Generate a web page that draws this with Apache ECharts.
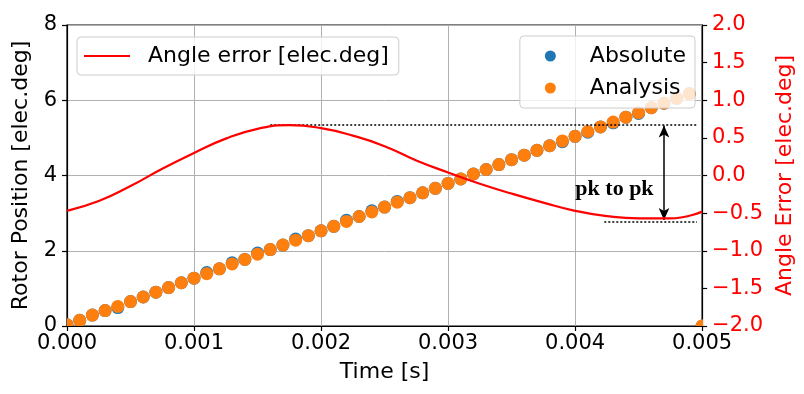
<!DOCTYPE html>
<html>
<head>
<meta charset="utf-8">
<script src="https://cdn.jsdelivr.net/npm/echarts@6/dist/echarts.min.js"></script>
<style>
html,body{margin:0;padding:0;background:#fff;}
#c{width:804px;height:394px;}
</style>
</head>
<body>
<div id="c"></div>
<script>
// ---- data ----
const timeArr = [0,0.0001,0.0002,0.0003,0.0004,0.0005,0.0006,0.0007,0.0008,0.0009,
  0.0010,0.0011,0.0012,0.0013,0.0014,0.0015,0.0016,0.0017,0.0018,0.0019,
  0.0020,0.0021,0.0022,0.0023,0.0024,0.0025,0.0026,0.0027,0.0028,0.0029,
  0.0030,0.0031,0.0032,0.0033,0.0034,0.0035,0.0036,0.0037,0.0038,0.0039,
  0.0040,0.0041,0.0042,0.0043,0.0044,0.0045,0.0046,0.0047,0.0048,0.0049,0.0050];
const analysisVals = [0.03,0.15,0.29,0.41,0.52,0.65,0.77,0.90,1.02,1.15,
  1.27,1.39,1.52,1.65,1.77,1.91,2.03,2.15,2.28,2.40,
  2.53,2.65,2.78,2.91,3.03,3.16,3.29,3.41,3.54,3.66,
  3.79,3.91,4.04,4.16,4.29,4.42,4.54,4.67,4.79,4.92,
  5.04,5.17,5.29,5.42,5.55,5.67,5.80,5.92,6.05,6.17,0.00];
const absoluteVals = [0.03,0.15,0.29,0.41,0.49,0.65,0.77,0.90,1.02,1.15,
  1.27,1.42,1.52,1.68,1.77,1.94,2.03,2.15,2.31,2.40,
  2.53,2.65,2.81,2.91,3.06,3.16,3.31,3.41,3.54,3.66,
  3.79,3.91,4.04,4.16,4.29,4.42,4.54,4.67,4.79,4.90,
  5.04,5.15,5.29,5.40,5.55,5.65,5.80,5.92,6.05,6.17,0.00];
const errT = [0,0.00025,0.0005,0.00075,0.001,0.00125,0.0015,0.00175,0.002,0.00225,
  0.0025,0.00275,0.003,0.00325,0.0035,0.00375,0.004,0.00425,0.0045,0.00475,0.005];
const errV = [-0.47,-0.34,-0.14,0.09,0.30,0.49,0.62,0.67,0.63,0.53,
  0.39,0.20,0.04,-0.11,-0.24,-0.36,-0.47,-0.54,-0.57,-0.57,-0.48];
const pkLevels = [0.68, -0.61];          // dotted peak / trough levels
const peakSpan = [0.0016, 0.00496];
const troughSpan = [0.00423, 0.00496];
const arrowT = 0.0047;
const arrowEnds = [0.665, -0.59];
const pkLabelPos = [0.00431, -0.18];

const FONT = 'DejaVu Sans';
const chart = echarts.init(document.getElementById('c'), null, {renderer:'canvas'});

function dotSeries(name, vals, color){
  return {
    name, type:'custom', clip:true, z:2,
    itemStyle:{color},
    encode:{x:0,y:1},
    data: timeArr.map((t,i)=>[t, vals[i]]),
    renderItem:(params, api)=>{
      const p = api.coord([api.value(0), api.value(1)]);
      return {type:'circle', shape:{cx:p[0], cy:p[1], r:6.5}, style:{fill:color}};
    }
  };
}

chart.setOption({
  animation:false,
  textStyle:{fontFamily:FONT},
  grid:{left:67,right:97,top:25,bottom:68,show:true,borderColor:'#000',borderWidth:1.2,backgroundColor:'transparent'},
  legend:[
    {data:[{name:'Angle error [elec.deg]', icon:'rect'}], left:77, top:37, orient:'horizontal',
     itemWidth:46, itemHeight:2, padding:[8,10,8,7],
     backgroundColor:'rgba(255,255,255,0.8)', borderColor:'#cccccc', borderWidth:1, borderRadius:4,
     textStyle:{fontSize:22, color:'#000', fontFamily:FONT, padding:[0,0,0,13]}, z:10},
    {data:[{name:'Absolute', icon:'circle'},{name:'Analysis', icon:'circle'}], right:109, top:36, orient:'vertical',
     itemWidth:11, itemHeight:11, itemGap:10, padding:[9,9,9,25],
     backgroundColor:'rgba(255,255,255,0.8)', borderColor:'#cccccc', borderWidth:1, borderRadius:4,
     textStyle:{fontSize:22, color:'#000', fontFamily:FONT, padding:[0,0,0,29]}, z:10}
  ],
  xAxis:{type:'value', min:0, max:0.005, interval:0.001,
    name:'Time [s]', nameLocation:'middle', nameGap:35,
    nameTextStyle:{fontSize:22, color:'#000', fontFamily:FONT},
    axisLine:{show:true, lineStyle:{color:'#000', width:1.2}},
    axisTick:{show:true, length:5, lineStyle:{color:'#000', width:1.2}},
    axisLabel:{fontSize:21, color:'#000', margin:7, fontFamily:FONT, formatter:v=>v.toFixed(3)},
    splitLine:{show:true, lineStyle:{color:'#b0b0b0', width:1}}},
  yAxis:[
    {type:'value', min:0, max:8, interval:2, position:'left',
     name:'Rotor Position [elec.deg]', nameLocation:'middle', nameGap:32, nameRotate:90,
     nameTextStyle:{fontSize:22, color:'#000', fontFamily:FONT},
     axisLine:{show:true, lineStyle:{color:'#000', width:1.2}},
     axisTick:{show:true, length:5, lineStyle:{color:'#000', width:1.2}},
     axisLabel:{fontSize:21, color:'#000', margin:10, fontFamily:FONT},
     splitLine:{show:true, lineStyle:{color:'#b0b0b0', width:1}}},
    {type:'value', min:-2, max:2, interval:0.5, position:'right',
     name:'Angle Error [elec.deg]', nameLocation:'middle', nameGap:67, nameRotate:90,
     nameTextStyle:{fontSize:22, color:'#ff0000', fontFamily:FONT},
     axisLine:{show:true, lineStyle:{color:'#000', width:1.2}},
     axisTick:{show:true, length:5, lineStyle:{color:'#000', width:1.2}},
     axisLabel:{fontSize:21, color:'#ff0000', margin:10, fontFamily:FONT,
       formatter:v=>(v<0?'\u2212':'')+Math.abs(v).toFixed(1)},
     splitLine:{show:false}}
  ],
  series:[
    dotSeries('Absolute', absoluteVals, '#1f77b4'),
    dotSeries('Analysis', analysisVals, '#ff7f0e'),
    {name:'Angle error [elec.deg]', type:'line', yAxisIndex:1, z:5,
     data: errT.map((t,i)=>[t, errV[i]]), smooth:0.5, symbol:'none',
     lineStyle:{color:'#ff0000', width:2.2}, itemStyle:{color:'#ff0000'},
     markLine:{silent:true, symbol:['none','none'], label:{show:false},
       lineStyle:{color:'#000', type:[2,2], width:1.5},
       data:[
         [{coord:[peakSpan[0], pkLevels[0]]},{coord:[peakSpan[1], pkLevels[0]]}],
         [{coord:[troughSpan[0], pkLevels[1]]},{coord:[troughSpan[1], pkLevels[1]]}],
         [{coord:[arrowT, arrowEnds[0]], symbol:'arrow', symbolSize:[8,12], lineStyle:{type:'solid', width:1.5, color:'#000'}},
          {coord:[arrowT, arrowEnds[1]], symbol:'arrow', symbolSize:[8,12]}]
       ]},
     markPoint:{silent:true, symbol:'circle', symbolSize:0,
       data:[{coord:pkLabelPos}],
       label:{show:true, position:'inside', formatter:'pk to pk', color:'#000',
         fontFamily:'Liberation Serif', fontWeight:'bold', fontSize:22}}
    }
  ]
});
</script>
</body>
</html>
